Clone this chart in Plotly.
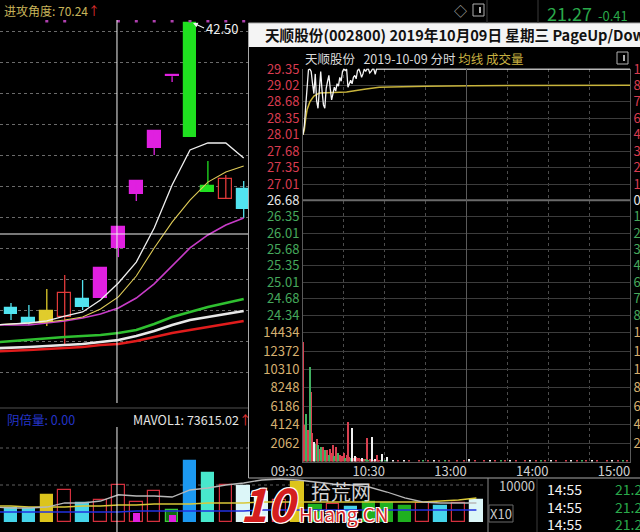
import plotly.graph_objects as go

W, H = 640, 532
FONT = "Noto Sans CJK SC, Noto Sans, sans-serif"


def fx(x):
    return x / W


def fy(y):
    return 1 - y / H


# ---------------- daily K-line (left panel) ----------------
k_idx = [0, 1, 2, 3, 4, 5, 6, 7, 8, 9, 10, 11, 12, 13]
k_open = [24.12, 23.47, 23.15, 23.54, 24.70, 24.76, 28.01, 31.47, 34.44, 39.07, 42.50, 31.99, 31.15, 31.79]
k_high = [24.44, 24.31, 25.34, 26.25, 25.92, 26.68, 29.35, 32.29, 35.52, 39.07, 42.50, 33.60, 32.70, 32.31]
k_low = [23.34, 23.02, 22.96, 21.73, 23.99, 24.76, 27.40, 31.02, 33.99, 38.69, 35.15, 31.60, 31.15, 29.92]
k_close = [23.73, 23.15, 23.92, 25.09, 24.18, 26.68, 29.35, 32.29, 35.52, 39.07, 35.15, 31.60, 32.44, 30.50]
k_kind = ['cyan', 'cyan', 'yellow', 'red', 'cyan', 'magenta', 'magenta', 'magenta', 'magenta',
          'magenta', 'green', 'green', 'red', 'cyan']

ma_idx = [-1, 0, 1, 2, 3, 4, 5, 6, 7, 8, 9, 10, 11, 12, 13]
ma5 = [23.02, 23.09, 23.15, 23.28, 23.60, 23.86, 24.63, 25.73, 27.08, 29.28, 32.05, 34.31, 34.76, 34.76, 33.79]
ma10 = [23.02, 23.09, 23.15, 23.21, 23.34, 23.54, 24.05, 24.83, 26.18, 27.99, 29.66, 31.08, 32.24, 32.89, 33.28]
ma20 = [23.02, 23.02, 23.02, 23.15, 23.28, 23.47, 23.73, 24.12, 24.76, 25.67, 26.83, 27.99, 28.83, 29.47, 29.92]
ma60 = [21.89, 21.99, 22.05, 22.18, 22.25, 22.31, 22.38, 22.51, 22.70, 23.09, 23.54, 23.86, 24.18, 24.44, 24.70]
ma120 = [21.51, 21.54, 21.60, 21.67, 21.73, 21.80, 21.92, 22.05, 22.31, 22.63, 23.02, 23.34, 23.54, 23.73, 23.92]
ma250 = [21.31, 21.34, 21.41, 21.47, 21.54, 21.60, 21.73, 21.80, 21.99, 22.25, 22.51, 22.70, 22.89, 23.09, 23.28]

flag_idx = [2, 3, 6, 7, 8, 9, 10, 11, 12, 13]
flag_level = 42.63

cross_idx = 6
cross_price = 28.89
peak_label = "42.50"
peak_price = 42.50
peak_idx = 10.17

# ---------------- daily volume ----------------
v_idx = [0, 1, 2, 3, 4, 5, 6, 7, 8, 9, 10, 11, 12, 13, 14, 15, 16, 17, 18, 19, 20, 21, 22, 23, 24, 25, 26]
v_val = [37800, 35100, 73000, 86500, 51400, 59500, 100000, 54100, 83800, 32400, 164900, 132400, 100000,
         97300, 80000, 60000, 108000, 45000, 50000, 40000, 55000, 51400, 43200, 51400, 43200, 51400, 59500]
v_kind = ['cyan', 'cyan', 'yellow', 'red', 'cyan', 'red', 'red', 'red', 'red', 'dkgreen', 'blue', 'aqua',
          'red', 'white', 'white', 'red', 'yellow', 'green', 'red', 'cyan', 'green', 'green', 'green', 'red',
          'cyan', 'red', 'white']
v_inner_idx = [7, 9]
v_inner_val = [24300, 18900]

vma_idx = [-1, 0, 1, 2, 3, 4, 5, 6, 7, 8, 9, 10, 11, 12, 13, 14, 15, 16, 17, 18, 19, 20, 21, 22, 23, 24, 25, 26]
vma1 = [40500, 37800, 37800, 40500, 51400, 51400, 56800, 73615, 70300, 70300, 67600, 86500, 91900, 100000,
        105400, 113500, 116200, 113500, 108100, 102700, 100000, 94600, 81100, 64900, 54100, 51400, 51400, 51400]
vma2 = [43200, 43200, 40500, 40500, 40500, 43200, 43200, 46000, 46000, 48700, 48700, 48700, 51400, 51400,
        51400, 54100, 54100, 54100, 54100, 54100, 54100, 54100, 54100, 54100, 54100, 56800, 59500, 64900]
vma3 = [27000, 27000, 27000, 27000, 27000, 27000, 27000, 27000, 29700, 29700, 29700, 29700, 29700, 29700,
        29700, 32400, 32400, 32400, 32400, 32400, 32400, 32400, 32400, 32400, 32400, 32400, 32400, 32400]
vol_grid = [100000, 200000]

# ---------------- intraday (popup) ----------------
prev_close = 26.68
price_ticks = [29.35, 29.02, 28.68, 28.35, 28.01, 27.68, 27.35, 27.01, 26.68,
               26.35, 26.01, 25.68, 25.35, 25.01, 24.68, 24.34]
vol_ticks = [2062, 4124, 6186, 8248, 10310, 12372, 14434]
time_vals = [0, 60, 120, 180, 240]
time_text = ['09:30', '10:30', '13:00', '14:00', '15:00']

tick_min = [0, 1, 2, 3, 4, 5, 6, 7, 8, 9, 10, 11, 12, 13, 14, 15, 16, 17, 18, 19, 20, 21, 22, 23, 24, 25,
            26, 27, 28, 29, 30, 31, 32, 33, 34, 35, 36, 37, 38, 39, 40, 41, 42, 43, 44, 45, 46, 47, 48, 49,
            50, 51, 52, 53, 54, 240]
tick_price = [28.01, 28.20, 28.60, 29.10, 29.33, 29.35, 29.30, 29.05, 28.85, 29.25,
              28.70, 28.55, 29.05, 29.30, 28.90, 28.62, 28.55, 28.95, 29.10, 29.22,
              28.95, 28.72, 28.85, 28.98, 28.90, 29.05, 29.00, 29.18, 29.10, 29.30,
              29.35, 29.32, 29.35, 28.98, 29.05, 29.12, 29.05, 29.18, 29.22, 29.15,
              29.32, 29.35, 29.28, 29.18, 29.25, 29.35, 29.30, 29.35, 29.35, 29.27,
              29.30, 29.35, 29.35, 29.24, 29.35, 29.35]
avg_min = [0, 1, 2, 3, 5, 8, 12, 20, 32, 45, 56, 90, 124, 240]
avg_price = [28.01, 28.12, 28.35, 28.52, 28.68, 28.80, 28.86, 28.87, 28.88, 28.94, 28.98, 29.00, 29.01, 29.02]

red_min = [0, 1, 3, 4, 6, 7, 10, 12, 14, 15, 17, 18, 20, 21, 22, 24, 25, 27, 28, 29, 30, 32, 33, 34, 37, 39,
           40, 41, 42, 44, 45, 47, 49, 50, 52, 54, 55, 56, 70, 78, 85, 92, 100, 107, 113, 118, 126, 133, 141,
           148, 156, 163, 171, 178, 186, 193, 201, 208, 216, 223, 231, 238]
red_vol = [13400, 4200, 2900, 3600, 7800, 3200, 2600, 1500, 1200, 1700, 900, 1300, 1500, 1000, 1850, 1700,
           600, 800, 500, 700, 1000, 800, 4500, 600, 500, 600, 500, 400, 350, 300, 300, 2650, 300, 200, 250,
           800, 200, 200, 180, 150, 200, 150, 180, 160, 200, 250, 150, 170, 200, 150, 180, 160, 190, 150,
           200, 170, 150, 200, 160, 180, 150, 220]
green_min = [2, 5, 9, 11, 13, 16, 19, 23, 26, 31, 35, 46, 48, 57, 60, 88, 104, 145, 175, 205, 235]
green_vol = [5400, 10600, 2000, 1850, 1700, 1300, 800, 700, 1000, 500, 400, 300, 250, 200, 200, 150, 150,
             150, 150, 150, 150]
white_min = [8, 36, 38, 43, 51, 53, 58, 62, 66, 74, 96, 122, 137, 152, 167, 182, 197, 212, 227]
white_vol = [2200, 3760, 700, 400, 2750, 300, 950, 550, 250, 150, 200, 300, 150, 200, 150, 250, 150, 200, 150]

# ---------------- styles ----------------
KCOL = {'cyan': ('#52e4f0', '#52e4f0'), 'yellow': ('#e0cc2c', '#e0cc2c'), 'red': ('#000000', '#e23a3a'),
        'magenta': ('#e020e0', '#e020e0'), 'green': ('#20e020', '#20e020')}
VCOL = {'cyan': ('#46d4ea', '#46d4ea'), 'yellow': ('#dcc41c', '#dcc41c'), 'red': ('#000000', '#d4303e'),
        'dkgreen': ('#126a12', '#3ccc3c'), 'green': ('#1fb01f', '#1fb01f'), 'blue': ('#1c98f0', '#1c98f0'),
        'aqua': ('#48e8cc', '#48e8cc'), 'white': ('#dcf6f8', '#dcf6f8')}
RED, GREEN, WHITE, TAN = '#d83c50', '#46a85c', '#e6e6e6', '#d6b070'
GRID = '#3c3c3c'

fig = go.Figure()

# candles: wicks then bodies per colour group
for kind, (fill, line) in KCOL.items():
    ids = [j for j, k in enumerate(k_kind) if k == kind]
    if not ids:
        continue
    wx, wy = [], []
    for j in ids:
        wx += [k_idx[j], k_idx[j], None]
        wy += [k_low[j], k_high[j], None]
    fig.add_trace(go.Scatter(x=wx, y=wy, mode='lines', line=dict(color=line, width=1.3),
                             xaxis='x', yaxis='y', hoverinfo='skip'))
    fig.add_trace(go.Bar(x=[k_idx[j] for j in ids],
                         base=[min(k_open[j], k_close[j]) for j in ids],
                         y=[max(abs(k_close[j] - k_open[j]), 0.06) for j in ids],
                         width=0.72, marker=dict(color=fill, line=dict(color=line, width=1.2)),
                         xaxis='x', yaxis='y', hoverinfo='skip'))

for vals, col, w in [(ma60, '#2fc030', 2.6), (ma120, '#e8e8e8', 2.6), (ma250, '#e01c1c', 2.6),
                     (ma20, '#c83cc8', 1.6), (ma10, '#e0cc58', 1.1), (ma5, '#f0f0f0', 1.3)]:
    fig.add_trace(go.Scatter(x=ma_idx, y=vals, mode='lines', line=dict(color=col, width=w),
                             xaxis='x', yaxis='y', hoverinfo='skip'))

fig.add_trace(go.Scatter(x=flag_idx, y=[flag_level] * len(flag_idx), mode='markers',
                         marker=dict(symbol='square', size=3, color='#b040b0'),
                         xaxis='x', yaxis='y', hoverinfo='skip'))

# daily volume
for kind, (fill, line) in VCOL.items():
    ids = [j for j, k in enumerate(v_kind) if k == kind]
    if not ids:
        continue
    fig.add_trace(go.Bar(x=[v_idx[j] for j in ids], y=[v_val[j] for j in ids], width=0.7,
                         marker=dict(color=fill, line=dict(color=line, width=1.2)),
                         xaxis='x3', yaxis='y3', hoverinfo='skip'))
fig.add_trace(go.Bar(x=v_inner_idx, y=v_inner_val, width=0.38, marker=dict(color='#e020e0', line_width=0),
                     xaxis='x3', yaxis='y3', hoverinfo='skip'))
for vals, col, w in [(vma3, '#2030e0', 1.6), (vma2, '#d8c838', 1.6), (vma1, '#b8b8b8', 1.3)]:
    fig.add_trace(go.Scatter(x=vma_idx, y=vals, mode='lines', line=dict(color=col, width=w),
                             xaxis='x3', yaxis='y3', hoverinfo='skip'))

# intraday
fig.add_trace(go.Scatter(x=[0, 240], y=[prev_close, prev_close], mode='lines',
                         line=dict(color='#6a6a6a', width=2), xaxis='x4', yaxis='y6', hoverinfo='skip'))
fig.add_trace(go.Scatter(x=avg_min, y=avg_price, mode='lines', line=dict(color='#c8b43c', width=1.5),
                         xaxis='x4', yaxis='y4', hoverinfo='skip'))
fig.add_trace(go.Scatter(x=tick_min, y=tick_price, mode='lines', line=dict(color='#f4f4f4', width=1.3),
                         xaxis='x4', yaxis='y4', hoverinfo='skip'))
fig.add_trace(go.Bar(x=red_min, y=red_vol, width=0.8, marker=dict(color='#d84050', line_width=0),
                     xaxis='x5', yaxis='y5', hoverinfo='skip'))
fig.add_trace(go.Bar(x=green_min, y=green_vol, width=0.8, marker=dict(color='#40b060', line_width=0),
                     xaxis='x5', yaxis='y5', hoverinfo='skip'))
fig.add_trace(go.Bar(x=white_min, y=white_vol, width=0.8, marker=dict(color='#f0f0f0', line_width=0),
                     xaxis='x5', yaxis='y7', hoverinfo='skip'))


def col_of(p):
    return RED if p > prev_close + 1e-9 else (WHITE if abs(p - prev_close) < 1e-9 else GREEN)


price_text = ["<span style='color:%s'>%.2f</span>" % (col_of(p), p) for p in price_ticks]
pct_text = ["<span style='color:%s'>%.2f%%</span>" % (col_of(p), abs(p - prev_close) / prev_close * 100)
            for p in price_ticks]
vol_text = ["<span style='color:%s'>%d</span>" % (TAN, v) for v in vol_ticks]

p_lo, p_hi = 24.01, 29.36
v_hi = 14568
tf = dict(family=FONT, size=13, color='#d0d0d0')
NA = dict(automargin=False)

fig.update_layout(
    template='none',
    width=W, height=H, margin=dict(l=0, r=0, t=0, b=0, pad=0), autosize=False,
    paper_bgcolor='#000000', plot_bgcolor='rgba(0,0,0,0)', showlegend=False,
    barmode='overlay', bargap=0, font=dict(family=FONT, color='#d0d0d0'),
    xaxis=dict(domain=[0, fx(248)], range=[-0.6145, 13.240], visible=False, anchor='y', **NA),
    yaxis=dict(domain=[fy(400), fy(20)], range=[18.1835, 42.6935], anchor='x', showgrid=True,
               gridcolor='#6a6a6a', griddash='dot', gridwidth=1, tickmode='linear', tick0=41.984,
               dtick=1.9995, showticklabels=False, ticks='', zeroline=False, showline=False, **NA),
    xaxis3=dict(domain=[0, fx(485)], range=[-0.6145, 26.480], visible=False, anchor='y3', **NA),
    yaxis3=dict(domain=[0, fy(410)], range=[-27030, 302736], visible=False, anchor='x3', **NA),
    xaxis4=dict(domain=[fx(303), fx(630)], range=[0, 240], anchor='y4', showticklabels=False,
                tickvals=[0, 30, 60, 90, 150, 180, 210, 240], showgrid=True, griddash='dot',
                gridcolor='#4c4c4c', ticks='', zeroline=False, **NA),
    yaxis4=dict(domain=[fy(331.5), fy(68.5)], range=[p_lo, p_hi], anchor='x4', tickvals=price_ticks,
                ticktext=price_text, showgrid=True, gridcolor=GRID, showline=True, linecolor='#5a5a5a',
                ticks='', tickfont=tf, zeroline=False, **NA),
    yaxis6=dict(overlaying='y4', side='right', anchor='x4', range=[p_lo, p_hi], tickvals=price_ticks,
                ticktext=pct_text, showgrid=False, showline=True, linecolor='#5a5a5a', ticks='',
                tickfont=tf, zeroline=False, **NA),
    xaxis5=dict(domain=[fx(303), fx(630)], range=[0, 240], anchor='y5', tickvals=time_vals,
                ticktext=time_text, ticklabelshift=-16, ticklabelstandoff=-2, showgrid=True, griddash='dot',
                gridcolor='#4c4c4c',
                minor=dict(tickvals=[30, 90, 150, 210], showgrid=True, griddash='dot', gridcolor='#4c4c4c'),
                showline=True, linecolor='#5a5a5a', ticks='', tickfont=tf, zeroline=False, **NA),
    yaxis5=dict(domain=[fy(461.5), fy(331.5)], range=[0, v_hi], anchor='x5', tickvals=vol_ticks,
                ticktext=vol_text, showgrid=True, gridcolor=GRID, showline=True, linecolor='#5a5a5a',
                ticks='', tickfont=tf, zeroline=False, **NA),
    yaxis7=dict(overlaying='y5', side='right', anchor='x5', range=[0, v_hi], tickvals=vol_ticks,
                ticktext=vol_text, showgrid=False, showline=True, linecolor='#5a5a5a', ticks='',
                tickfont=tf, zeroline=False, **NA),
)

shapes = []


def pline(x0, y0, x1, y1, color, width=1, dash=None, layer='above'):
    d = dict(type='line', xref='paper', yref='paper', x0=fx(x0), y0=fy(y0), x1=fx(x1), y1=fy(y1),
             line=dict(color=color, width=width), layer=layer)
    if dash:
        d['line']['dash'] = dash
    shapes.append(d)


# popup title bar + frame
shapes.append(dict(type='rect', xref='paper', yref='paper', x0=fx(248), x1=fx(645), y0=fy(47), y1=fy(23),
                   fillcolor='#f4f4f4', line=dict(width=0), layer='below'))
shapes.append(dict(type='rect', xref='paper', yref='paper', x0=fx(248.5), x1=fx(645), y0=fy(478),
                   y1=fy(23), line=dict(color='#a8a8a8', width=1), layer='above'))
# crosshair
shapes.append(dict(type='line', xref='paper', yref='y', x0=0, x1=fx(248), y0=cross_price, y1=cross_price,
                   line=dict(color='#f0f0f0', width=1)))
shapes.append(dict(type='line', xref='x', yref='paper', x0=cross_idx - 0.08, x1=cross_idx - 0.08,
                   y0=fy(403), y1=fy(20), line=dict(color='#f0f0f0', width=1)))
shapes.append(dict(type='line', xref='x', yref='paper', x0=cross_idx - 0.08, x1=cross_idx - 0.08,
                   y0=fy(532), y1=fy(427), line=dict(color='#f0f0f0', width=1)))
# left separators / grids
pline(0, 408, 248, 408, '#505050')
shapes.append(dict(type='line', xref='paper', yref='y3', x0=0, x1=fx(485), y0=vol_grid[0], y1=vol_grid[0],
                   line=dict(color='#606060', width=1, dash='dot'), layer='below'))
shapes.append(dict(type='line', xref='paper', yref='y3', x0=0, x1=fx(248), y0=vol_grid[1], y1=vol_grid[1],
                   line=dict(color='#606060', width=1, dash='dot'), layer='below'))
# intraday midday solid line
shapes.append(dict(type='line', xref='x4', yref='paper', x0=120, x1=120, y0=fy(461.5), y1=fy(68.5),
                   line=dict(color='#5a5a5a', width=1)))
# top / bottom panel separators
pline(487, 0, 487, 23, '#3a3a3a')
pline(538, 0, 538, 23, '#3a3a3a')
pline(488, 478, 488, 532, '#8a8a8a')
pline(537, 478, 537, 532, '#3a3a3a')
shapes.append(dict(type='rect', xref='paper', yref='paper', x0=fx(489), x1=fx(513), y0=fy(522), y1=fy(505),
                   line=dict(color='#6a6a6a', width=1)))
# small icons
for (x0, y0) in [(473, 4), (617, 52)]:
    shapes.append(dict(type='rect', xref='paper', yref='paper', x0=fx(x0), x1=fx(x0 + 11), y0=fy(y0 + 12),
                       y1=fy(y0), line=dict(color='#b0b0b0', width=1)))
    pline(x0 + 7, y0 + 3, x0 + 7, y0 + 9, '#b0b0b0', 2)
fig.update_layout(shapes=shapes)

ann = []


def T(x, y, s, color, size, xa='left', ya='middle', **font_kw):
    f = dict(family=FONT, size=size, color=color)
    f.update(font_kw)
    ann.append(dict(x=fx(x), y=fy(y), xref='paper', yref='paper', text=s, showarrow=False,
                    xanchor=xa, yanchor=ya, font=f))


OUTLINE = "1px 1px 0 #fff, -1px -1px 0 #fff, 1px -1px 0 #fff, -1px 1px 0 #fff"

T(2, 10, "进攻角度: 70.24<span style='color:#e03030'>↑</span>", '#c8b45a', 12)
ann.append(dict(x=peak_idx, y=peak_price, xref='x', yref='y', text=peak_label, showarrow=True,
                arrowhead=2, arrowsize=0.8, arrowwidth=1.2, arrowcolor='#f0f0f0', ax=11, ay=5,
                xanchor='left', yanchor='middle', standoff=0, font=dict(family=FONT, size=13, color='#f0f0f0')))
T(5, 419, "阴倍量: 0.00", '#2434c8', 12.5)
T(131, 419, "MAVOL1: 73615.02<span style='color:#e03030'>↑</span>", '#e4e4e4', 12.5)
T(263, 35, "<b>天顺股份(002800) 2019年10月09日 星期三 PageUp/Down</b>", '#111111', 14.6)
T(303, 58, "天顺股份\u00a0\u00a0\u00a02019-10-09 分时 <span style='color:#c8b040'>均线 成交量</span>",
  '#dadada', 12.5)
T(545, 13, "21.27", '#2aa84a', 18)
T(596, 15, "-0.41", '#2aa84a', 13)
T(460, 10, "◇", '#b0b0b0', 13, xa='center')
T(497, 485, "10000", '#c8c8c8', 13)
T(501, 513, "X10", '#c8c8c8', 13, xa='center')
for yy in [489, 507, 524]:
    T(545, yy, "14:55", '#f2f2f2', 14)
    T(613, yy, "21.27", '#2aa84a', 14)
# watermark
T(270, 502, "<b><i>10</i></b>", '#d41e1e', 46, xa='center', shadow=OUTLINE)
T(309, 491, "拾荒网", '#d4d4d4', 20)
T(297, 513, "Huang.CN", '#d42828', 19, shadow=OUTLINE)
fig.update_layout(annotations=ann)

fig.write_html("out.html", config={'displayModeBar': False},
               post_script="document.body.style.margin='0px';document.body.style.overflow='hidden';")
